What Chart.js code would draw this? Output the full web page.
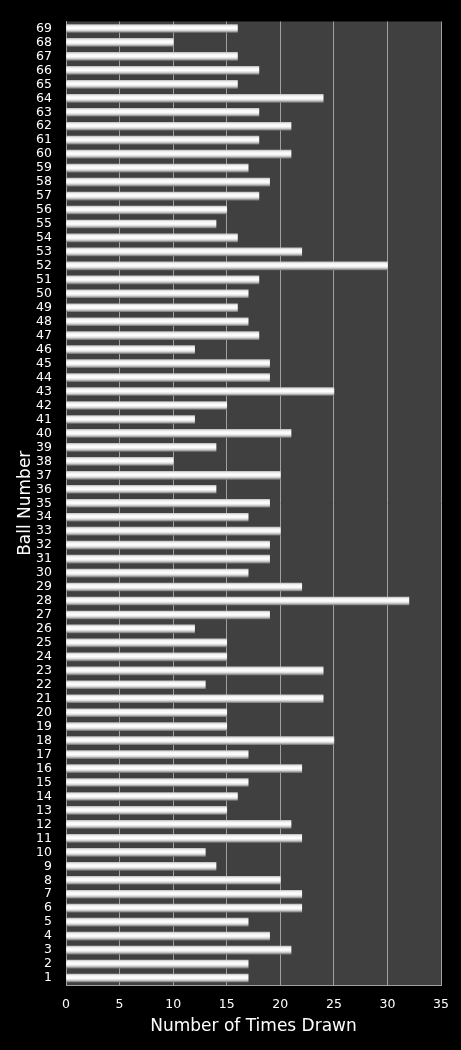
<!DOCTYPE html>
<html>
<head>
<meta charset="utf-8">
<title>Ball Number draws</title>
<script src="https://cdn.jsdelivr.net/npm/chart.js@4/dist/chart.umd.min.js"></script>
<style>
  html, body { margin: 0; padding: 0; background: #000; }
  canvas { display: block; }
</style>
</head>
<body>
<canvas id="chart" width="461" height="1050"></canvas>
<script>
// ball numbers 1..69 (drawn bottom to top)
var balls = [
  "1", "2", "3", "4", "5", "6", "7", "8", "9", "10",
  "11", "12", "13", "14", "15", "16", "17", "18", "19", "20",
  "21", "22", "23", "24", "25", "26", "27", "28", "29", "30",
  "31", "32", "33", "34", "35", "36", "37", "38", "39", "40",
  "41", "42", "43", "44", "45", "46", "47", "48", "49", "50",
  "51", "52", "53", "54", "55", "56", "57", "58", "59", "60",
  "61", "62", "63", "64", "65", "66", "67", "68", "69"
];
// times each ball was drawn
var timesDrawn = [
  17, 17, 21, 19, 17, 22, 22, 20, 14, 13,
  22, 21, 15, 16, 17, 22, 17, 25, 15, 15,
  24, 13, 24, 15, 15, 12, 19, 32, 22, 17,
  19, 19, 20, 17, 19, 14, 20, 10, 14, 21,
  12, 15, 25, 19, 19, 12, 18, 17, 16, 17,
  18, 30, 22, 16, 14, 15, 18, 19, 17, 21,
  18, 21, 18, 24, 16, 18, 16, 10, 16
];
var xTicks = [0, 5, 10, 15, 20, 25, 30, 35];

var plotBg = {
  id: "plotBg",
  beforeDraw: function (chart) {
    var c = chart.ctx, a = chart.chartArea;
    c.save();
    c.fillStyle = "#000000";
    c.fillRect(0, 0, chart.width, chart.height);
    c.fillStyle = "#404040";
    c.fillRect(a.left, a.top, a.right - a.left, a.bottom - a.top);
    c.restore();
  }
};

// cylinder-like shading for each bar
function barShade(ctx) {
  var chart = ctx.chart;
  var y = chart.scales && chart.scales.y;
  if (!y || !chart.chartArea || ctx.dataIndex === undefined) return "#ffffff";
  var mid = y.getPixelForValue(ctx.dataIndex);
  var g = chart.ctx.createLinearGradient(0, mid - 4, 0, mid + 4);
  g.addColorStop(0, "#c4c4c4");
  g.addColorStop(0.2, "#f4f4f4");
  g.addColorStop(0.5, "#ffffff");
  g.addColorStop(0.75, "#d8d8d8");
  g.addColorStop(1, "#7c7c7c");
  return g;
}

var ctx = document.getElementById("chart").getContext("2d");
var myChart = new Chart(ctx, {
  type: "bar",
  data: {
    labels: balls,
    datasets: [
      {
        label: "Number of Times Drawn",
        data: timesDrawn,
        backgroundColor: barShade,
        borderWidth: 0,
        barThickness: 8
      }
    ]
  },
  plugins: [plotBg],
  options: {
    indexAxis: "y",
    responsive: false,
    devicePixelRatio: 1,
    animation: false,
    layout: { padding: { top: 15, right: 19, left: 0, bottom: 0 } },
    plugins: {
      legend: { display: false },
      tooltip: { enabled: false }
    },
    scales: {
      x: {
        min: 0,
        max: 35,
        afterFit: function (scale) { scale.height = 65; },
        afterBuildTicks: function (scale) {
          scale.ticks = xTicks.map(function (v) { return { value: v }; });
        },
        grid: { color: "#a0a0a0", lineWidth: 1, drawTicks: false },
        border: { color: "#a0a0a0" },
        ticks: {
          color: "#ffffff",
          padding: 12,
          font: { family: "DejaVu Sans", size: 12.5 }
        },
        title: {
          display: true,
          text: "Number of Times Drawn",
          color: "#ffffff",
          padding: { top: 0, bottom: 13 },
          font: { family: "DejaVu Sans", size: 17 }
        }
      },
      y: {
        reverse: true,
        afterFit: function (scale) { scale.width = 66; },
        grid: { display: false, drawTicks: false },
        border: { display: true, color: "#a0a0a0" },
        ticks: {
          color: "#ffffff",
          autoSkip: false,
          padding: 14,
          font: { family: "DejaVu Sans", size: 12.5 }
        },
        title: {
          display: true,
          text: "Ball Number",
          color: "#ffffff",
          padding: { top: 15, bottom: 0 },
          font: { family: "DejaVu Sans", size: 17 }
        }
      }
    }
  }
});
</script>
</body>
</html>
